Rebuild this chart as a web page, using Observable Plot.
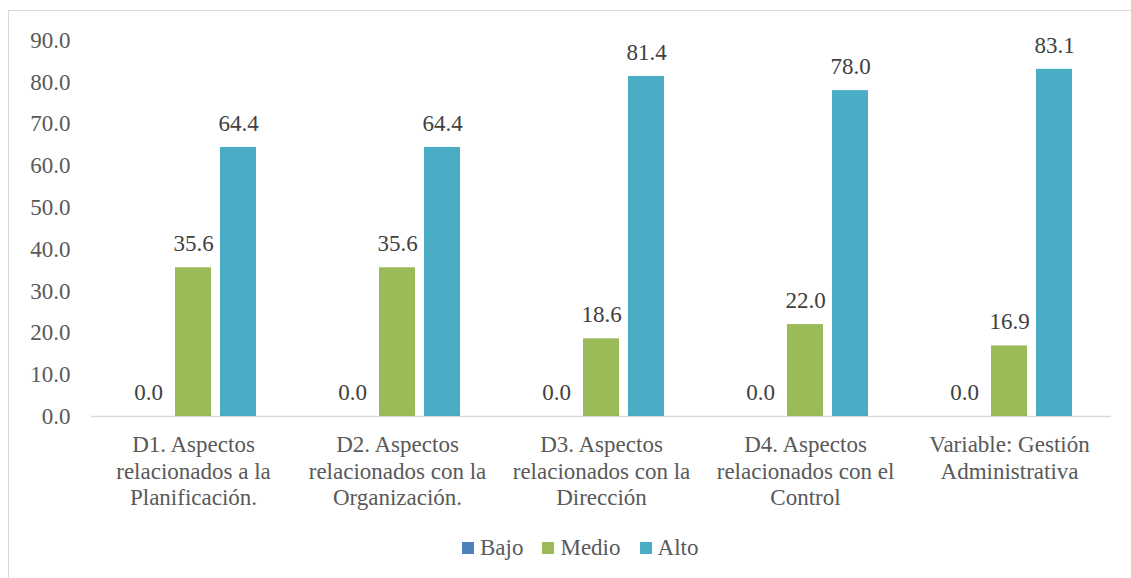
<!DOCTYPE html>
<html>
<head>
<meta charset="utf-8">
<script src="https://cdn.jsdelivr.net/npm/d3@7"></script>
<script src="https://cdn.jsdelivr.net/npm/@observablehq/plot@0.6"></script>
<style>
  * { font-family: "Liberation Serif", "Times New Roman", Tinos, serif !important; }
</style>
</head>
<body style="margin:0;padding:0;background:#fff;overflow:hidden;width:1131px;height:578px">
<div id="frame" style="position:absolute;left:8px;top:10px;width:1200px;height:700px;border:1.5px solid #d9d9d9;box-sizing:border-box"></div>
<div id="chart" style="position:absolute;left:0;top:0"></div>
<div id="legend" style="position:absolute;left:462px;top:535px;display:flex;align-items:center;font-size:23px;color:#595959"></div>
<script>
const categories = [
  "D1. Aspectos\nrelacionados a la\nPlanificación.",
  "D2. Aspectos\nrelacionados con la\nOrganización.",
  "D3. Aspectos\nrelacionados con la\nDirección",
  "D4. Aspectos\nrelacionados con el\nControl",
  "Variable: Gestión\nAdministrativa"
];
const series = ["Bajo", "Medio", "Alto"];
const colors = ["#4f81bd", "#9bbb59", "#4bacc6"];
const bajo  = [0.0, 0.0, 0.0, 0.0, 0.0];
const medio = [35.6, 35.6, 18.6, 22.0, 16.9];
const alto  = [64.4, 64.4, 81.4, 78.0, 83.1];
const yTicks = [0, 10, 20, 30, 40, 50, 60, 70, 80, 90];

const values = {Bajo: bajo, Medio: medio, Alto: alto};
const data = [];
categories.forEach((c, i) => series.forEach(s => data.push({category: c, series: s, value: values[s][i]})));

const chart = Plot.plot({
  width: 1131,
  height: 530,
  marginLeft: 89,
  marginRight: 18,
  marginTop: 40,
  marginBottom: 114,
  style: {fontSize: "23px", color: "#595959", background: "transparent"},
  fx: {domain: categories, padding: 0, label: null},
  x: {domain: series, paddingInner: 0.21, paddingOuter: 0.855, axis: null},
  y: {domain: [0, 90], label: null},
  color: {domain: series, range: colors},
  marks: [
    Plot.axisY({ticks: yTicks, tickFormat: d => d.toFixed(1), tickSize: 0, tickPadding: 21, label: null, fill: "#595959"}),
    Plot.axisFx({anchor: "bottom", tickSize: 0, tickPadding: 17, label: null, lineHeight: 1.15, fill: "#595959"}),
    Plot.ruleY([0], {stroke: "#d9d9d9", strokeWidth: 1.5}),
    Plot.barY(data, {fx: "category", x: "series", y: "value", fill: "series"}),
    Plot.text(data, {fx: "category", x: "series", y: "value", text: d => d.value.toFixed(1), dy: -24, lineAnchor: "middle", fill: "#404040"})
  ]
});
document.getElementById("chart").appendChild(chart);
const fix = () => document.querySelectorAll("*").forEach(el => el.style.setProperty("font-family", "'Liberation Serif'", "important"));
fix();

const legend = document.getElementById("legend");
series.forEach((s, i) => {
  const it = document.createElement("div");
  it.setAttribute("style", "display:flex;align-items:center;margin-right:19px");
  const sw = document.createElement("span");
  sw.setAttribute("style", "display:inline-block;width:12px;height:12px;margin-right:6px;background:" + colors[i]);
  it.appendChild(sw);
  it.appendChild(document.createTextNode(s));
  legend.appendChild(it);
});
fix();
setTimeout(fix, 50);
</script>
</body>
</html>
